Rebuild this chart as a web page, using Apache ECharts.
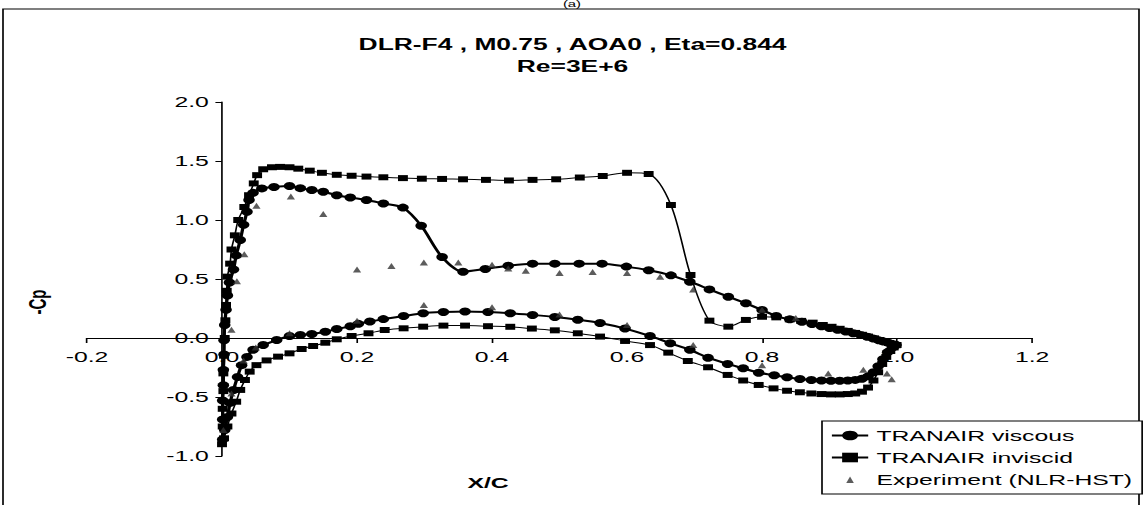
<!DOCTYPE html>
<html><head><meta charset="utf-8">
<script src="https://cdn.jsdelivr.net/npm/echarts@6/dist/echarts.min.js"></script>
<style>
html,body{margin:0;padding:0;background:#fff;overflow:hidden;width:1145px;height:505px;}
#chart{width:694px;height:505px;transform:scaleX(1.65);transform-origin:0 0;}
</style></head><body><div id="chart"></div>
<script>
// ---- data (x/c, -Cp) ----
const titleLines = ['DLR-F4 , M0.75 , AOA0 , Eta=0.844', 'Re=3E+6'];
const seriesNames = ['TRANAIR viscous', 'TRANAIR inviscid', 'Experiment (NLR-HST)'];
const xTickMin = -0.2, xTickMax = 1.2, xTickStep = 0.2;
const yTickMin = -1.0, yTickMax = 2.0, yTickStep = 0.5;

const viscousUpper = [
  [0.001,-0.86],[0.001,-0.69],[0.001,-0.53],[0.002,-0.40],[0.002,-0.27],[0.003,-0.14],[0.003,-0.02],
  [0.004,0.11],[0.006,0.24],[0.008,0.36],[0.011,0.47],[0.017,0.58],[0.021,0.70],[0.027,0.83],
  [0.032,0.96],[0.037,1.07],[0.040,1.17],[0.046,1.23],[0.059,1.268],[0.077,1.28],[0.100,1.288],
  [0.116,1.27],[0.133,1.254],[0.150,1.24],[0.170,1.21],[0.190,1.19],[0.214,1.17],[0.239,1.14],
  [0.268,1.105],[0.295,0.952],[0.326,0.686],[0.357,0.562],[0.390,0.585],[0.424,0.613],[0.460,0.63],
  [0.493,0.63],[0.529,0.63],[0.563,0.63],[0.599,0.605],[0.632,0.574],[0.665,0.531],[0.693,0.477],
  [0.722,0.412],[0.750,0.35],[0.776,0.294],[0.800,0.237],[0.821,0.186],[0.841,0.158],[0.859,0.138],
  [0.874,0.119],[0.888,0.10],[0.900,0.085],[0.912,0.07],[0.924,0.055],[0.935,0.04],[0.946,0.025],
  [0.956,0.01],[0.965,-0.005],[0.973,-0.02],[0.980,-0.03],[0.987,-0.04],[0.993,-0.05],[0.998,-0.06]
];
const viscousLower = [
  [0.004,-0.78],[0.008,-0.67],[0.012,-0.55],[0.017,-0.44],[0.023,-0.33],[0.029,-0.23],[0.037,-0.16],
  [0.046,-0.10],[0.061,-0.06],[0.081,-0.017],[0.100,0.017],[0.116,0.025],[0.133,0.034],[0.153,0.053],
  [0.170,0.076],[0.190,0.10],[0.202,0.12],[0.219,0.14],[0.239,0.16],[0.269,0.186],[0.298,0.21],
  [0.328,0.22],[0.360,0.225],[0.394,0.22],[0.427,0.21],[0.460,0.195],[0.493,0.178],[0.527,0.155],
  [0.560,0.127],[0.597,0.08],[0.634,0.017],[0.664,-0.045],[0.693,-0.10],[0.720,-0.167],[0.749,-0.22],
  [0.772,-0.257],[0.795,-0.294],[0.818,-0.316],[0.837,-0.333],[0.856,-0.347],[0.873,-0.356],
  [0.888,-0.36],[0.902,-0.362],[0.915,-0.362],[0.927,-0.36],[0.938,-0.355],[0.948,-0.345],
  [0.957,-0.325],[0.965,-0.29],[0.972,-0.24],[0.979,-0.18],[0.986,-0.12],[0.993,-0.08],[0.998,-0.06]
];
const inviscidUpper = [
  [0.000,-0.90],[0.001,-0.75],[0.001,-0.60],[0.002,-0.45],[0.002,-0.30],[0.003,-0.15],[0.004,0.0],
  [0.005,0.15],[0.006,0.28],[0.007,0.40],[0.008,0.52],[0.012,0.63],[0.014,0.75],[0.019,0.87],
  [0.024,1.0],[0.033,1.11],[0.040,1.21],[0.047,1.31],[0.052,1.38],[0.061,1.43],[0.074,1.447],
  [0.086,1.45],[0.100,1.447],[0.113,1.435],[0.130,1.418],[0.148,1.40],[0.170,1.383],[0.192,1.375],
  [0.214,1.368],[0.239,1.362],[0.268,1.355],[0.296,1.35],[0.326,1.348],[0.357,1.345],[0.391,1.34],
  [0.425,1.335],[0.460,1.34],[0.495,1.345],[0.530,1.36],[0.564,1.373],[0.600,1.40],[0.632,1.39],
  [0.665,1.127],[0.694,0.534],[0.722,0.147],[0.750,0.096],[0.776,0.153],[0.800,0.18],[0.821,0.175],
  [0.841,0.158],[0.858,0.145],[0.875,0.13],[0.890,0.11],[0.903,0.095],[0.915,0.078],[0.927,0.06],
  [0.938,0.043],[0.948,0.027],[0.957,0.012],[0.966,-0.003],[0.974,-0.017],[0.981,-0.03],
  [0.988,-0.042],[0.994,-0.052],[0.999,-0.06]
];
const inviscidLower = [
  [0.003,-0.85],[0.008,-0.75],[0.014,-0.64],[0.021,-0.54],[0.027,-0.44],[0.034,-0.356],[0.041,-0.285],
  [0.051,-0.23],[0.066,-0.19],[0.083,-0.158],[0.100,-0.13],[0.118,-0.093],[0.135,-0.068],[0.153,-0.04],
  [0.170,-0.011],[0.192,0.017],[0.217,0.04],[0.241,0.068],[0.269,0.082],[0.298,0.096],[0.328,0.105],
  [0.360,0.105],[0.394,0.10],[0.427,0.095],[0.459,0.08],[0.493,0.065],[0.527,0.04],[0.560,0.012],
  [0.597,-0.025],[0.634,-0.06],[0.661,-0.124],[0.690,-0.195],[0.720,-0.248],[0.749,-0.313],
  [0.772,-0.36],[0.795,-0.398],[0.817,-0.427],[0.837,-0.447],[0.856,-0.46],[0.873,-0.47],
  [0.888,-0.475],[0.902,-0.478],[0.915,-0.478],[0.927,-0.475],[0.938,-0.47],[0.948,-0.455],
  [0.957,-0.42],[0.965,-0.36],[0.972,-0.29],[0.978,-0.22],[0.984,-0.16],[0.990,-0.11],[0.995,-0.08],
  [0.999,-0.06]
];
const experimentUpper = [
  [0.014,0.07],[0.022,0.48],[0.033,0.71],[0.051,1.12],[0.102,1.20],[0.150,1.05],[0.200,0.58],
  [0.251,0.61],[0.299,0.64],[0.350,0.64],[0.400,0.62],[0.424,0.59],[0.450,0.57],[0.500,0.55],
  [0.549,0.56],[0.600,0.55],[0.649,0.52],[0.698,0.41],[0.800,0.24],[0.850,0.17]
];
const experimentLower = [
  [0.002,-0.78],[0.014,-0.47],[0.032,-0.19],[0.050,-0.08],[0.100,0.04],[0.200,0.147],[0.299,0.28],
  [0.400,0.26],[0.500,0.20],[0.600,0.11],[0.698,-0.06],[0.800,-0.23],[0.898,-0.30],[0.950,-0.27],
  [0.985,-0.30],[0.992,-0.35]
];

// ---- chart ----
const SX = 1.65; // horizontal stretch of the reference picture
const px = v => v / SX;
const font = "'Liberation Sans', Arial, sans-serif";
const fmt = v => (Math.abs(v) < 1e-9 ? 0 : v).toFixed(1);
// small triangle centred in a 22x12 legend box (move-to corners fix the box)
const legendTriangle = 'path://M0,0M22,12M11,3L13.3,9.5L8.7,9.5Z';

const chart = echarts.init(document.getElementById('chart'), null, {renderer: 'svg'});
const gridBottom = 49, gridLeft = px(87);
chart.setOption({
  animation: false,
  backgroundColor: '#fff',
  title: {
    text: titleLines.join('\n'),
    left: 'center', top: 29,
    textStyle: {fontFamily: font, fontSize: 16, fontWeight: 'bold', color: '#000', lineHeight: 22}
  },
  grid: {left: gridLeft, right: px(1145 - 1032), top: 102, bottom: gridBottom, containLabel: false},
  xAxis: {
    type: 'value', min: xTickMin, max: xTickMax, interval: xTickStep, position: 'bottom',
    splitLine: {show: false},
    axisLine: {onZero: false, lineStyle: {color: '#000', width: 1}},
    axisTick: {show: true, inside: false, length: 5, lineStyle: {color: '#000'}},
    axisLabel: {formatter: fmt, fontFamily: font, fontSize: 15, color: '#000', margin: 11, showMinLabel: true, showMaxLabel: true}
  },
  yAxis: {
    type: 'value', min: yTickMin, max: yTickMax, interval: yTickStep, position: 'left',
    splitLine: {show: false},
    axisLine: {onZero: false, lineStyle: {color: '#000', width: 1}},
    axisTick: {show: true, inside: false, length: 4, lineStyle: {color: '#000'}},
    axisLabel: {formatter: fmt, fontFamily: font, fontSize: 15, color: '#000', margin: 8}
  },
  legend: {
    orient: 'vertical', left: px(822), top: 421,
    data: [seriesNames[0], seriesNames[1], {name: seriesNames[2], icon: legendTriangle}],
    backgroundColor: '#fff', borderColor: '#000', borderWidth: 1, borderRadius: 0,
    padding: [7, 6, 7, 5], itemGap: 7, itemWidth: 22, itemHeight: 12,
    textStyle: {fontFamily: font, fontSize: 15, color: '#000', padding: [0, 0, 0, 0]}
  },
  series: [
    {
      name: seriesNames[0], type: 'line', smooth: 0.3,
      data: viscousUpper.slice().reverse().concat(viscousLower),
      symbol: 'circle', symbolSize: [7, 8],
      lineStyle: {color: '#000', width: 2}, itemStyle: {color: '#000'}, z: 3
    },
    {
      name: seriesNames[1], type: 'line', smooth: 0.3,
      data: inviscidUpper.slice().reverse().concat(inviscidLower),
      symbol: 'rect', symbolSize: [6, 6],
      lineStyle: {color: '#000', width: 1}, itemStyle: {color: '#000'}, z: 2
    },
    {
      name: seriesNames[2], type: 'scatter',
      data: experimentUpper.concat(experimentLower),
      symbol: 'triangle', symbolSize: [5, 6],
      itemStyle: {color: '#333'}, z: 4
    }
  ],
  graphic: [
    {type: 'rect', shape: {x: px(3), y: 9, width: px(1139 - 3), height: 600},
     style: {fill: 'none', stroke: '#000', lineWidth: 1}, silent: true, z: 0},
    {type: 'text', x: px(572), y: 4,
     style: {text: '(a)', font: '9px ' + font, fill: '#000', align: 'center', verticalAlign: 'middle'}},
    {type: 'text', x: px(37), y: 302, rotation: Math.PI / 2,
     style: {text: '-Cp', font: 'bold 15px ' + font, fill: '#000', align: 'center', verticalAlign: 'middle'}},
    {type: 'text', x: px(488), y: 483,
     style: {text: 'X/C', font: 'bold 15px ' + font, fill: '#000', align: 'center', verticalAlign: 'middle'}}
  ]
});
// Excel-style crossing: put each axis through the other axis' zero using the library's own scale
const origin = chart.convertToPixel({gridIndex: 0}, [0, 0]);
const gridBottomY = chart.getHeight() - gridBottom;
chart.setOption({
  xAxis: {offset: origin[1] - gridBottomY},
  yAxis: {offset: gridLeft - origin[0]}
});
</script></body></html>
